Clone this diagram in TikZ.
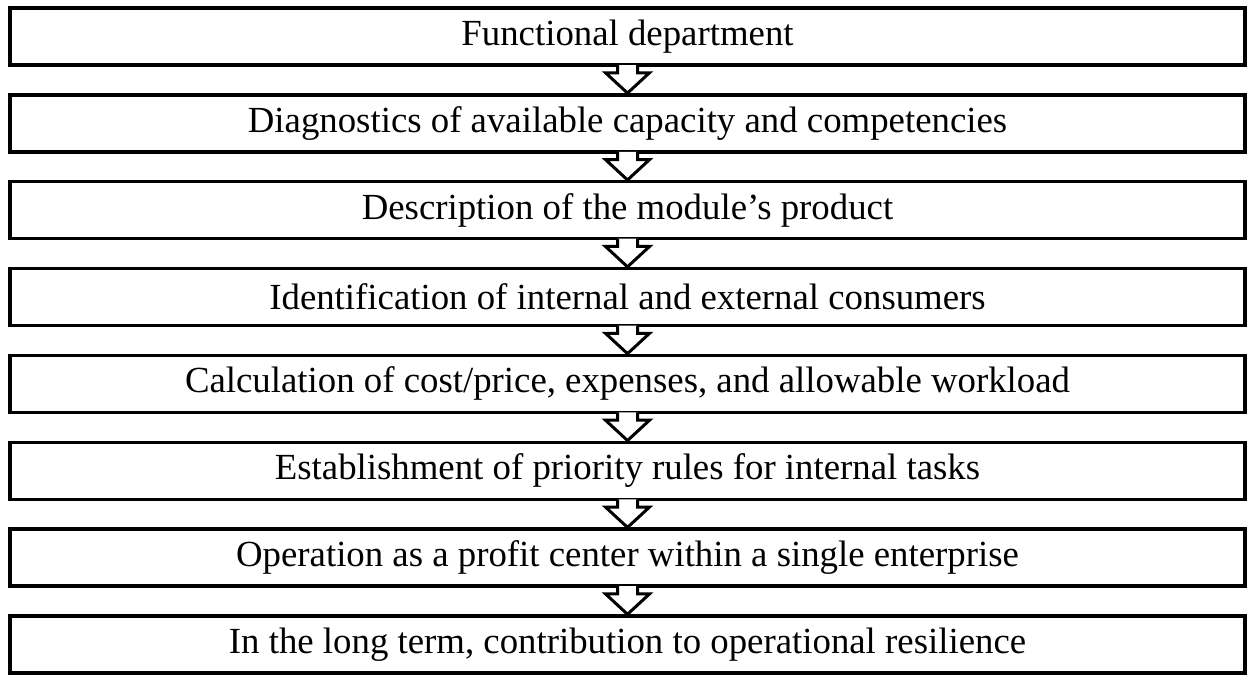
\documentclass[tikz,border=0pt]{standalone}
\usepackage{fontspec}
\setmainfont{Liberation Serif}
\usetikzlibrary{calc}
\tikzset{
  stage/.style={draw, line width=3.5pt, fill=white, minimum width=1235pt,
    minimum height=57pt, inner sep=0pt, font=\fontsize{36.8pt}{40pt}\selectfont},
  flowarrow/.style={draw, line width=3pt, fill=white, line join=miter}
}
\begin{document}
\begin{tikzpicture}[x=1pt,y=1pt]
\useasboundingbox (0,0) rectangle (1247,-675);
% process stages, top to bottom
\node[stage] (b1) at (627.5,-36.5)  {Functional department};
\node[stage] (b2) at (627.5,-123.36) {Diagnostics of available capacity and competencies};
\node[stage] (b3) at (627.5,-210.22) {Description of the module’s product};
\node[stage] (b4) at (627.5,-297.08) {Identification of internal and external consumers};
\node[stage] (b5) at (627.5,-383.94) {Calculation of cost/price, expenses, and allowable workload};
\node[stage] (b6) at (627.5,-470.8)  {Establishment of priority rules for internal tasks};
\node[stage] (b7) at (627.5,-557.66) {Operation as a profit center within a single enterprise};
\node[stage] (b8) at (627.5,-644.52) {In the long term, contribution to operational resilience};
% block arrows between consecutive stages
\foreach \i/\j in {1/2,2/3,3/4,4/5,5/6,6/7,7/8}{
  \draw[flowarrow]
    ($(b\i.south)+(-10,1.75)$) -- ($(b\i.south)+(-10,-6)$)
    -- ($(b\i.south)+(-22,-6)$) -- (b\j.north)
    -- ($(b\i.south)+(22,-6)$) -- ($(b\i.south)+(10,-6)$)
    -- ($(b\i.south)+(10,1.75)$);
}
\end{tikzpicture}
\end{document}
